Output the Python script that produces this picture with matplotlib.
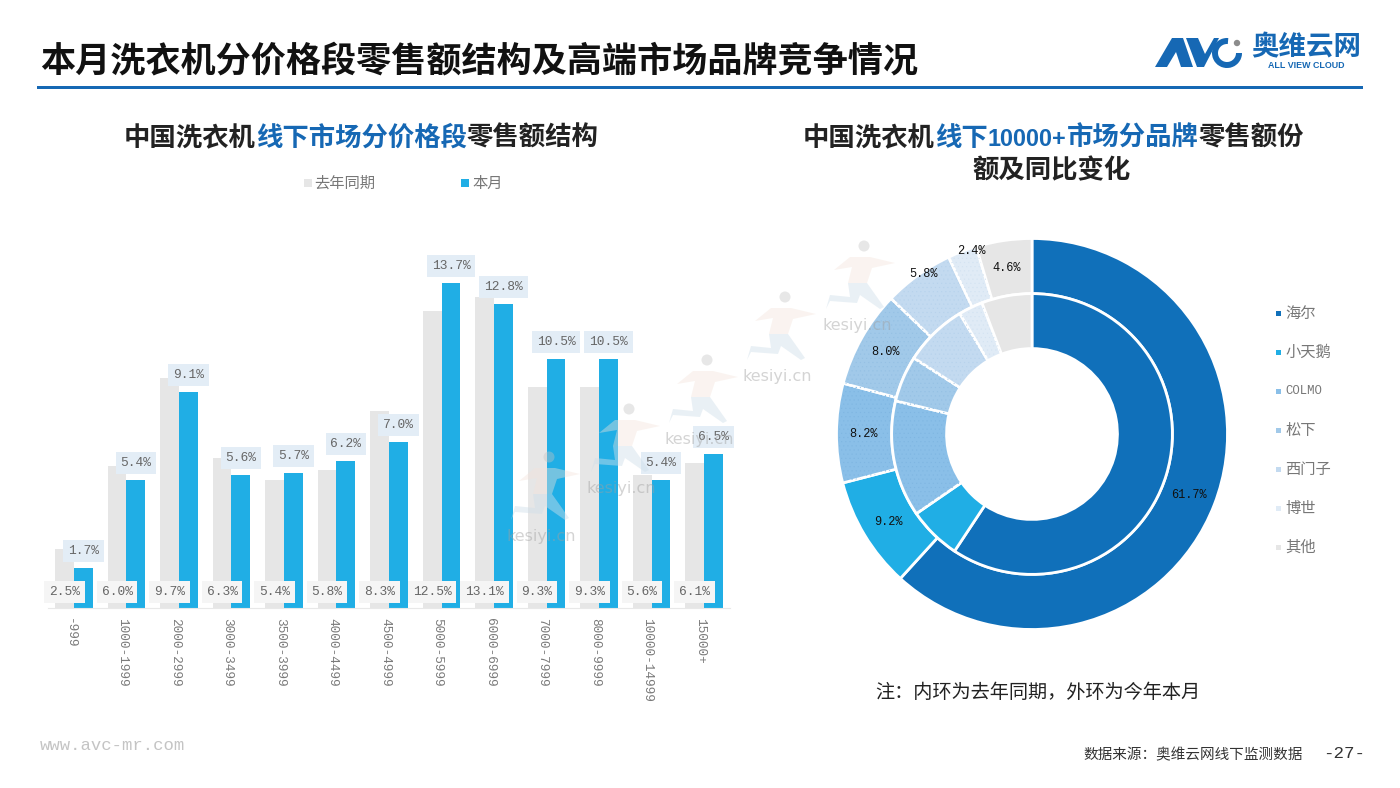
import matplotlib
matplotlib.use("Agg")
import matplotlib.pyplot as plt
from matplotlib.patches import Polygon, Circle, Wedge, Rectangle
from matplotlib.transforms import ScaledTranslation

CJK = ['Noto Sans CJK SC', 'DejaVu Sans']
MONO = ['Liberation Mono', 'DejaVu Sans Mono']
plt.rcParams['font.family'] = CJK
plt.rcParams['hatch.linewidth'] = 0.3

W, H = 1400, 788

# ---- data ----
price_bands = ['-999', '1000-1999', '2000-2999', '3000-3499', '3500-3999', '4000-4499', '4500-4999',
               '5000-5999', '6000-6999', '7000-7999', '8000-9999', '10000-14999', '15000+']
last_year = [2.5, 6.0, 9.7, 6.3, 5.4, 5.8, 8.3, 12.5, 13.1, 9.3, 9.3, 5.6, 6.1]
this_month = [1.7, 5.4, 9.1, 5.6, 5.7, 6.2, 7.0, 13.7, 12.8, 10.5, 10.5, 5.4, 6.5]
brands = ['海尔', '小天鹅', 'COLMO', '松下', '西门子', '博世', '其他']
share_now = [61.7, 9.2, 8.2, 8.0, 5.8, 2.4, 4.6]
share_prev = [59.3, 6.1, 13.4, 5.3, 7.3, 2.8, 5.8]
brand_colors = ['#1070ba', '#20aee5', '#8abfe8', '#a1c9e9', '#c3daf0', '#e0ebf6', '#e6e6e6']
dot_colors = [None, None, '#7fb6e2', '#94c0e4', '#b6d2ec', '#d3e3f2', None]
outer_label_px = [(1189, 495), (888, 522), (864, 434), (885, 352), (923, 274), (971, 251), (1007, 268)]
watermarks = [(507, 536), (587, 488), (665, 439), (743, 376), (822, 325)]

BLUE = '#20aee5'
GREY = '#e6e6e6'
DARK = '#1668b4'

fig = plt.figure(figsize=(W / 100, H / 100), dpi=100, facecolor='white')


def axes_px(x0, y0, x1, y1, **kw):
    return fig.add_axes([x0 / W, 1 - y1 / H, (x1 - x0) / W, (y1 - y0) / H], **kw)


# ---- bars ----
ax = axes_px(48, 275.5, 730, 608)
x = list(range(len(price_bands)))
bw = 0.36
ax.bar([i - bw / 2 for i in x], last_year, bw, color=GREY, zorder=2)
ax.bar([i + bw / 2 for i in x], this_month, bw, color=BLUE, zorder=2)
ax.set_xlim(-0.495, 12.495)
ax.set_ylim(0, 14)
ax.set_yticks([])
ax.set_xticks(x)
ax.set_xticklabels(price_bands, rotation=270, family=MONO, fontsize=9.2, color='#7a7a7a', ha='center', va='top')
ax.tick_params(axis='x', length=0, pad=7)
shift = ScaledTranslation(-4 / 100, 0, fig.dpi_scale_trans)
for lab in ax.get_xticklabels():
    lab.set_transform(lab.get_transform() + shift)
for s in ['top', 'left', 'right']:
    ax.spines[s].set_visible(False)
ax.spines['bottom'].set_color('#e8e8e8')
ax.patch.set_alpha(0)
for i in x:
    ax.annotate(f'{last_year[i]:.1f}%', (i - bw / 2, 0), xytext=(0, 11.5), textcoords='offset points',
                ha='center', va='center', family=MONO, fontsize=9.3, color='#666666', zorder=5,
                bbox=dict(boxstyle='square,pad=0.38', fc='#f5f5f5', ec='none'))
    ax.annotate(f'{this_month[i]:.1f}%', (i + bw / 2, this_month[i]), xytext=(0, 12), textcoords='offset points',
                ha='center', va='center', family=MONO, fontsize=9.3, color='#666666', zorder=5,
                bbox=dict(boxstyle='square,pad=0.38', fc='#e3edf6', ec='none'))

# ---- donut ----
pie = axes_px(836.5, 238.5, 1227.5, 629.5)
SPLIT = 0.718
HOLE = 0.437
ring_specs = [(share_now, 1.0, 1.0 - SPLIT), (share_prev, SPLIT, SPLIT - HOLE)]
for shares, r, wd in ring_specs:
    pie.pie(shares, colors=brand_colors, startangle=90, counterclock=False, radius=r,
            wedgeprops=dict(width=wd, edgecolor='white', linewidth=2.0))
    dots, _ = pie.pie(shares, colors=['none'] * len(shares), startangle=90, counterclock=False, radius=r - 0.012,
                      wedgeprops=dict(width=wd - 0.024, linewidth=0))
    for w, dc in zip(dots, dot_colors):
        if dc:
            w.set_hatch('....')
            w.set_edgecolor(dc)
            w.set_facecolor('none')
            w.set_linewidth(0)
        else:
            w.set_visible(False)
pie.set_xlim(-1, 1)
pie.set_ylim(-1, 1)
pie.set_aspect('equal')

# ---- overlay in pixel coordinates ----
ov = fig.add_axes([0, 0, 1, 1], zorder=10)
ov.set_xlim(0, W)
ov.set_ylim(H, 0)
ov.axis('off')
ov.patch.set_alpha(0)

ov.text(40, 61, '本月洗衣机分价格段零售额结构及高端市场品牌竞争情况', fontsize=25.25, fontweight='bold',
        color='#111111', ha='left', va='center')
ov.add_patch(Rectangle((37, 85.5), 1326, 3, color=DARK, lw=0))

renderer = fig.canvas.get_renderer()


def mixed(x0, base, parts):
    cur = x0
    for s, c, size, fam, wt in parts:
        t = ov.text(cur, base, s, fontsize=size, fontweight=wt, color=c, family=fam, ha='left', va='baseline')
        cur += t.get_window_extent(renderer).width


TXT = '#222222'
mixed(124, 146, [('中国洗衣机', TXT, 19, CJK, 'bold'), ('线下市场分价格段', DARK, 19, CJK, 'bold'),
                 ('零售额结构', TXT, 19, CJK, 'bold')])
mixed(803, 146, [('中国洗衣机', TXT, 19, CJK, 'bold'), ('线下', DARK, 19, CJK, 'bold'),
                 ('10000+', DARK, 16.8, ['Liberation Sans'], 'bold'), ('市场分品牌', DARK, 19, CJK, 'bold'),
                 ('零售额份', TXT, 19, CJK, 'bold')])
ov.text(1052, 178, '额及同比变化', fontsize=19, fontweight='bold', color=TXT, ha='center', va='baseline')

# left legend
ov.add_patch(Rectangle((304, 179), 7.5, 8, color=GREY, lw=0))
ov.text(314, 183, '去年同期', fontsize=11, color='#777777', ha='left', va='center')
ov.add_patch(Rectangle((461, 179), 7.5, 8, color=BLUE, lw=0))
ov.text(472, 183, '本月', fontsize=11, color='#777777', ha='left', va='center')

# right legend
for i, (b, c) in enumerate(zip(brands, brand_colors)):
    y = 313 + 39 * i
    ov.add_patch(Rectangle((1276, y - 2.5), 4.5, 5, color=c, lw=0))
    is_latin = b.isascii()
    ov.text(1285, y, b, fontsize=8.9 if is_latin else 11, color='#777777', ha='left', va='center',
            family=MONO if is_latin else CJK)

# donut labels
for v, (px, py) in zip(share_now, outer_label_px):
    ov.text(px, py, f'{v:.1f}%', family=MONO, fontsize=8.6, color='#111111', ha='center', va='center')

ov.text(1037.5, 692, '注：内环为去年同期，外环为今年本月', fontsize=12.9 * 323 / 302, color=TXT, ha='center', va='center')
ov.text(40, 746, 'www.avc-mr.com', family=MONO, fontsize=12.4, color='#c4c4c4', ha='left', va='center')
ov.text(1083, 755, '数据来源：奥维云网线下监测数据', fontsize=10.5, color='#333333', ha='left', va='center')
ov.text(1323, 754, '-27-', family=MONO, fontsize=12.6, color='#333333', ha='left', va='center')

# logo
ov.add_patch(Polygon([(1155, 67), (1172, 38), (1183, 38), (1193, 67), (1181, 67), (1176, 52), (1167, 67)],
                     color=DARK, lw=0))
ov.add_patch(Polygon([(1186, 38), (1198, 38), (1205, 54), (1214, 38), (1219, 38), (1204, 67), (1197, 67)],
                     color=DARK, lw=0))
ov.add_patch(Wedge((1227, 53), 15, 0, 275, width=6, color=DARK, lw=0))
ov.add_patch(Circle((1237, 43), 3.2, color='#8c8c8c', lw=0))
ov.text(1251, 47, '奥维云网', fontsize=19.8, fontweight='bold', color=DARK, ha='left', va='center')
ov.text(1268, 65, 'ALL VIEW CLOUD', family=['Liberation Sans'], fontsize=6.4, fontweight='bold',
        color=DARK, ha='left', va='center')

# watermarks
for wx, wy in watermarks:
    ov.text(wx, wy, 'kesiyi.cn', family=['DejaVu Sans'], fontsize=11.5, color='#a0a0a0', alpha=0.45,
            ha='left', va='center', zorder=1)
    torso = [(wx + 12, wy - 55), (wx + 28, wy - 68), (wx + 48, wy - 68), (wx + 73, wy - 62), (wx + 50, wy - 57),
             (wx + 45, wy - 42), (wx + 26, wy - 42), (wx + 30, wy - 58)]
    legs = [(wx + 26, wy - 42), (wx + 45, wy - 42), (wx + 62, wy - 18), (wx + 58, wy - 16), (wx + 38, wy - 30),
            (wx + 35, wy - 22), (wx + 8, wy - 24), (wx + 4, wy - 16), (wx + 8, wy - 30), (wx + 28, wy - 28)]
    ov.add_patch(Polygon(torso, color='#f3e3da', alpha=0.4, lw=0))
    ov.add_patch(Polygon(legs, color='#cfdfea', alpha=0.45, lw=0))
    ov.add_patch(Circle((wx + 42, wy - 79), 5.5, color='#c4c4c4', alpha=0.4, lw=0))

fig.savefig('out.png', dpi=100, facecolor='white')
